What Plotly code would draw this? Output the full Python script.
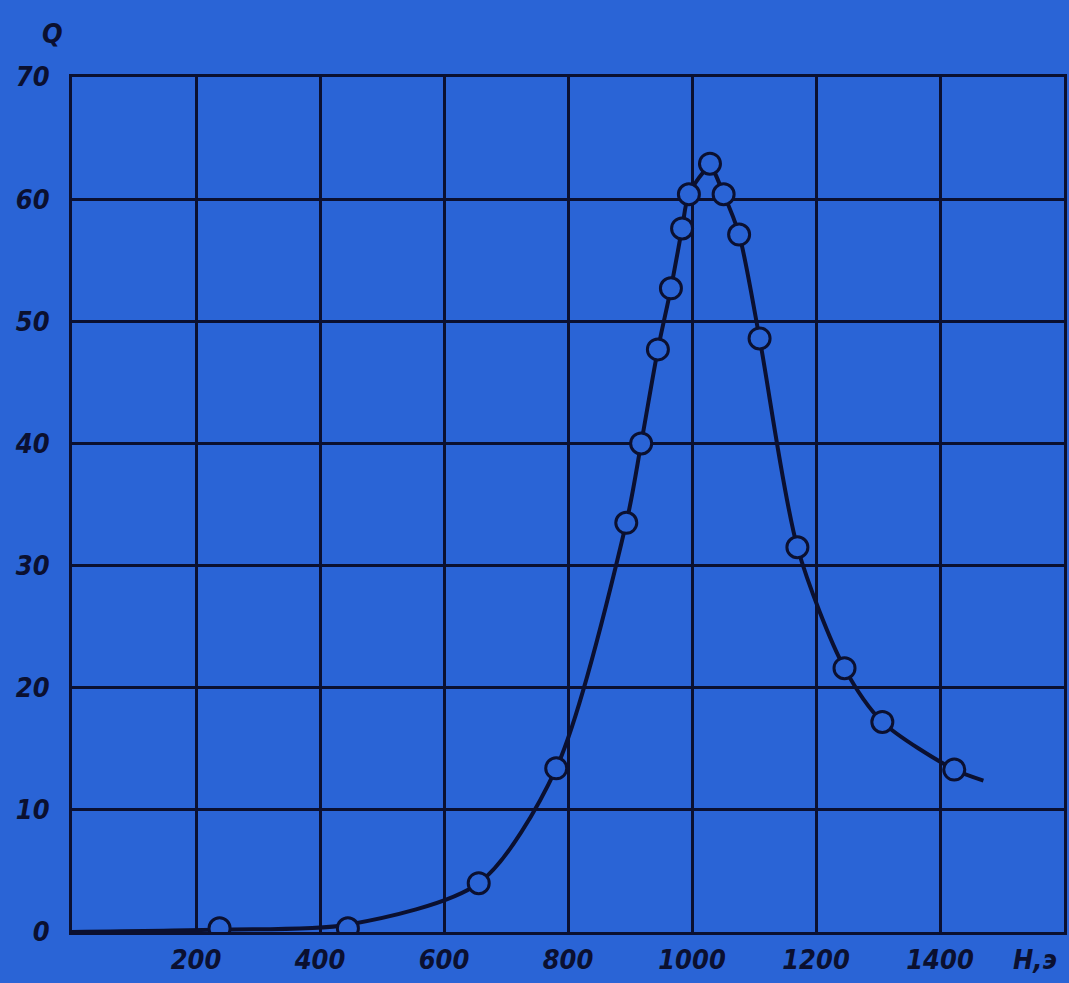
import plotly.graph_objects as go

# measured points (H in oersted, Q)
h_pts = [238, 445, 656, 781, 894, 918, 945, 966, 984, 995, 1029, 1051, 1076, 1109, 1170, 1246, 1307, 1423]
q_pts = [0.3, 0.3, 4.0, 13.4, 33.5, 40.0, 47.7, 52.7, 57.6, 60.4, 62.9, 60.4, 57.1, 48.6, 31.5, 21.6, 17.2, 13.3]

# smooth curve drawn through the points
h_curve = [0, 238, 445, 656, 781, 894, 918, 945, 966, 984, 995, 1029, 1051, 1076, 1109, 1170, 1246, 1307, 1423, 1470]
q_curve = [0.0, 0.2, 0.6, 4.0, 13.4, 33.5, 40.0, 47.7, 52.7, 57.6, 60.4, 62.6, 60.4, 57.1, 48.6, 31.5, 21.6, 17.2, 13.3, 12.4]

x_ticks = [200, 400, 600, 800, 1000, 1200, 1400]
y_ticks = [0, 10, 20, 30, 40, 50, 60, 70]

BG = "#2a64d6"
INK = "#0b1030"
FONT = dict(family="DejaVu Sans Condensed", size=27, color=INK, style="italic", weight="bold")

fig = go.Figure()
fig.add_trace(go.Scatter(x=h_curve, y=q_curve, mode="lines",
                         line=dict(color=INK, width=4, shape="spline", smoothing=0.8),
                         hoverinfo="skip"))
fig.add_trace(go.Scatter(x=h_pts, y=q_pts, mode="markers",
                         marker=dict(symbol="circle", size=21, color=BG,
                                     line=dict(color=INK, width=3))))

fig.update_layout(
    width=1069, height=983,
    paper_bgcolor=BG, plot_bgcolor=BG,
    margin=dict(l=72, r=2, t=77, b=51),
    showlegend=False,
    xaxis=dict(range=[0, 1600], tickvals=x_ticks, ticktext=[str(v) for v in x_ticks],
               showgrid=True, gridcolor=INK, gridwidth=3,
               showline=True, linecolor=INK, linewidth=3, mirror=True,
               zeroline=False, ticks="", tickfont=FONT, ticklabelstandoff=2),
    yaxis=dict(range=[0, 70], tickvals=y_ticks, ticktext=[str(v) for v in y_ticks],
               showgrid=True, gridcolor=INK, gridwidth=3,
               showline=True, linecolor=INK, linewidth=3, mirror=True,
               zeroline=False, ticks="", tickfont=FONT, ticklabelstandoff=14),
    annotations=[
        dict(text="Q", x=(52 - 72) / 995, y=1 + (77 - 34) / 855, xref="paper", yref="paper",
             showarrow=False, font=FONT, xanchor="center", yanchor="middle"),
        dict(text="Н,э", x=1515, y=0, xref="x", yref="y", showarrow=False,
             font=FONT, xanchor="left", yanchor="top", yshift=-10),
    ],
)

fig.write_html(
    "out.html",
    config={"displayModeBar": False},
    post_script=("document.body.style.margin='0';"
                 "document.body.style.overflow='hidden';"
                 "document.body.style.backgroundColor='" + BG + "';"),
)
